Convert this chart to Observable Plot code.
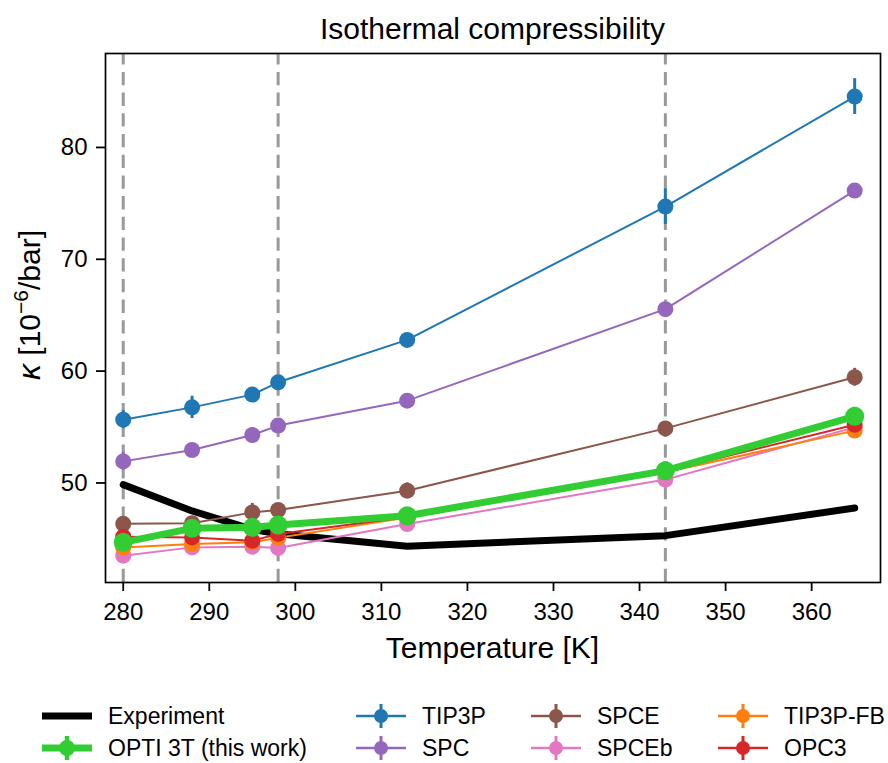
<!DOCTYPE html>
<html>
<head>
<meta charset="utf-8">
<script src="https://cdn.jsdelivr.net/npm/d3@7"></script>
<script src="https://cdn.jsdelivr.net/npm/@observablehq/plot@0.6"></script>
<style>
  body { margin: 0; background: #fff; font-family: "Liberation Sans", Arial, Helvetica, sans-serif; }
  #wrap { position: relative; width: 888px; height: 763px; overflow: hidden; }
  #chart { position: absolute; left: 0; top: 0; }
  #title { position: absolute; left: 105px; width: 775px; top: 9px; text-align: center; font-size: 30px; line-height: 40px; color: #000; }
  .leg { position: absolute; height: 32px; display: flex; align-items: center; font-size: 23px; color: #000; white-space: nowrap; }
  .leg svg { margin-right: 16px; }
</style>
</head>
<body>
<div id="wrap">
  <div id="chart"></div>
  <div id="title">Isothermal compressibility</div>
  <div id="legend"></div>
</div>
<script>
// Temperatures (K) at which every model was simulated
const temperature = [280, 288, 295, 298, 313, 343, 365];

// Experimental isothermal compressibility (10^-6 / bar)
const experimentKappa = [49.85, 47.5, 45.85, 45.45, 44.35, 45.29, 47.76];

// Water models: value and standard error at each temperature
const tip3p    = [55.66, 56.76, 57.9, 59.0, 62.79, 74.71, 84.55];
const tip3pErr = [0.8, 1.0, 0.4, 0.5, 0.5, 1.6, 1.6];
const spc      = [51.93, 52.95, 54.29, 55.13, 57.36, 65.54, 76.14];
const spcErr   = [0.8, 0.4, 0.4, 0.5, 0.3, 0.4, 0.6];
const spce     = [46.35, 46.4, 47.37, 47.58, 49.31, 54.88, 59.45];
const spceErr  = [0.4, 0.4, 0.8, 0.4, 0.7, 0.4, 0.8];
const spceb    = [43.5, 44.24, 44.3, 44.19, 46.33, 50.3, 54.97];
const spcebErr = [0.4, 0.6, 0.4, 0.4, 0.5, 0.7, 0.5];
const tip3pfb    = [44.24, 44.54, 44.7, 45.1, 46.9, 50.95, 54.68];
const tip3pfbErr = [0.4, 0.4, 0.4, 0.4, 0.4, 0.4, 0.5];
const opc3     = [45.2, 45.13, 44.84, 45.44, 46.95, 51.05, 55.2];
const opc3Err  = [0.4, 0.4, 0.4, 0.4, 0.4, 0.5, 0.5];
const opti     = [44.69, 45.94, 46.03, 46.24, 47.07, 51.1, 55.96];
const optiErr  = [0.5, 0.5, 0.5, 0.5, 0.6, 0.8, 0.8];

// Reference temperatures marked by dashed lines
const markedTemperatures = [280, 298, 343];

// Axis ticks and ranges
const xTicks = [280, 290, 300, 310, 320, 330, 340, 350, 360];
const yTicks = [50, 60, 70, 80];
const xDomain = [277.94, 368.0];
const yDomain = [41.1, 88.4];

// Model series in drawing order (the new model goes on top)
const models = [
  {name: "TIP3P",    values: tip3p,   err: tip3pErr,   color: "#1f77b4"},
  {name: "SPC",      values: spc,     err: spcErr,     color: "#9467bd"},
  {name: "SPCE",     values: spce,    err: spceErr,    color: "#8c564b"},
  {name: "SPCEb",    values: spceb,   err: spcebErr,   color: "#e377c2"},
  {name: "TIP3P-FB", values: tip3pfb, err: tip3pfbErr, color: "#ff7f0e"},
  {name: "OPC3",     values: opc3,    err: opc3Err,    color: "#d62728"},
  {name: "OPTI 3T (this work)", values: opti, err: optiErr, color: "#32cd32", bold: true}
];

const experiment = temperature.map((t, i) => ({t, k: experimentKappa[i]}));

const seriesMarks = models.flatMap(m => {
  const rows = temperature.map((t, i) => ({t, k: m.values[i], lo: m.values[i] - m.err[i], hi: m.values[i] + m.err[i]}));
  return [
    Plot.line(rows, {x: "t", y: "k", stroke: m.color, strokeWidth: m.bold ? 7 : 2}),
    Plot.ruleX(rows, {x: "t", y1: "lo", y2: "hi", stroke: m.color, strokeWidth: m.bold ? 4.5 : 3}),
    Plot.dot(rows, {x: "t", y: "k", r: m.bold ? 9.5 : 8, fill: m.color, stroke: "none"})
  ];
});

const chart = Plot.plot({
  width: 888,
  height: 680,
  marginLeft: 105,
  marginRight: 8,
  marginTop: 53,
  marginBottom: 98,
  style: {fontFamily: '"Liberation Sans", Arial, Helvetica, sans-serif', fontSize: "24px", color: "#000", background: "#fff", overflow: "visible"},
  x: {domain: xDomain},
  y: {domain: yDomain},
  marks: [
    Plot.ruleX(markedTemperatures, {x: d => d, y1: () => yDomain[0], y2: () => yDomain[1], stroke: "#999", strokeWidth: 3, strokeDasharray: "13.3,7.4"}),
    Plot.line(experiment, {x: "t", y: "k", stroke: "#000", strokeWidth: 7}),
    ...seriesMarks,
    Plot.axisX(xTicks, {tickSize: 9, tickPadding: 11, strokeWidth: 1.8, tickFormat: d => String(d), label: null, fontSize: 24}),
    Plot.axisY(yTicks, {tickSize: 9, tickPadding: 9, strokeWidth: 1.8, tickFormat: d => String(d), label: null, fontSize: 24}),
    Plot.frame({stroke: "#000", strokeWidth: 1.7})
  ]
});

document.getElementById("chart").appendChild(chart);

// Axis titles
const svg = d3.select(chart);
const plotCenterX = (105 + 880) / 2;
svg.append("text")
  .attr("x", plotCenterX).attr("y", 658)
  .attr("text-anchor", "middle")
  .attr("font-size", 30)
  .attr("fill", "#000")
  .text("Temperature [K]");

const yLabel = svg.append("text")
  .attr("transform", "translate(40,305) rotate(-90)")
  .attr("text-anchor", "middle")
  .attr("font-size", 30)
  .attr("fill", "#000");
yLabel.append("tspan").attr("font-style", "italic").attr("font-size", 32).text("κ");
yLabel.append("tspan").text(" [10");
yLabel.append("tspan").attr("font-size", 21).attr("dy", -12).text("−6");
yLabel.append("tspan").attr("dy", 12).text("/bar]");

// Legend below the plot
const legendItems = [
  {name: "Experiment", color: "#000", kind: "exp", left: 42, top: 700},
  {name: "OPTI 3T (this work)", color: "#32cd32", kind: "bold", left: 42, top: 732},
  {name: "TIP3P", color: "#1f77b4", kind: "model", left: 356, top: 700},
  {name: "SPC", color: "#9467bd", kind: "model", left: 356, top: 732},
  {name: "SPCE", color: "#8c564b", kind: "model", left: 531, top: 700},
  {name: "SPCEb", color: "#e377c2", kind: "model", left: 531, top: 732},
  {name: "TIP3P-FB", color: "#ff7f0e", kind: "model", left: 718, top: 700},
  {name: "OPC3", color: "#d62728", kind: "model", left: 718, top: 732}
];

const legend = d3.select("#legend");
for (const item of legendItems) {
  const row = legend.append("div").attr("class", "leg")
    .style("left", item.left + "px").style("top", item.top + "px");
  const s = row.append("svg").attr("width", 50).attr("height", 32);
  if (item.kind === "exp") {
    s.append("line").attr("x1", 0).attr("x2", 50).attr("y1", 16).attr("y2", 16)
      .attr("stroke", item.color).attr("stroke-width", 7);
  } else {
    const bold = item.kind === "bold";
    s.append("line").attr("x1", 0).attr("x2", 50).attr("y1", 16).attr("y2", 16)
      .attr("stroke", item.color).attr("stroke-width", bold ? 7 : 2.5);
    s.append("line").attr("x1", 25).attr("x2", 25).attr("y1", 4).attr("y2", 28)
      .attr("stroke", item.color).attr("stroke-width", bold ? 4.5 : 3);
    s.append("circle").attr("cx", 25).attr("cy", 16).attr("r", bold ? 8 : 7)
      .attr("fill", item.color);
  }
  row.append("span").text(item.name);
}
</script>
</body>
</html>
